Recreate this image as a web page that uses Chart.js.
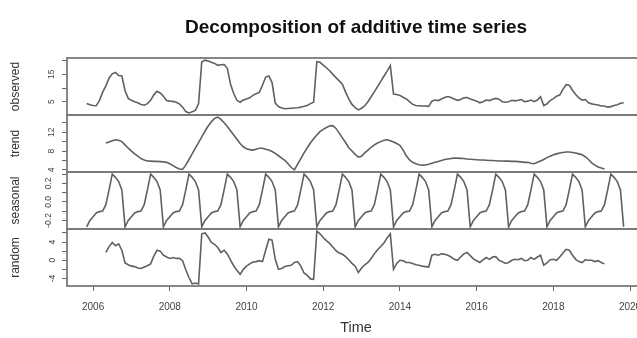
<!DOCTYPE html>
<html>
<head>
<meta charset="utf-8">
<script src="https://cdn.jsdelivr.net/npm/chart.js@4.4.1/dist/chart.umd.min.js"></script>
<style>
  html, body { margin: 0; padding: 0; overflow: hidden; background: #fff; }
  #wrap { width: 637px; height: 338px; overflow: hidden; }
</style>
</head>
<body>
<div id="wrap"><canvas id="chart" width="660" height="338"></canvas></div>
<script>
// Monthly series, first value = Nov 2005
const startYear = 2005 + 10 / 12;

const observed = [
  4.3, 3.9, 3.6, 3.5, 5.5, 8.5, 10.8, 13.6, 15.2, 15.7, 14.6, 14.4,
  9.0, 6.2, 5.5, 5.0, 4.6, 4.0, 3.7, 4.3, 5.5, 7.5, 8.8, 8.2,
  7.0, 5.4, 5.2, 5.1, 4.8, 4.2, 3.0, 1.4, 0.9, 1.3, 1.8, 4.2,
  19.5, 20.2, 19.9, 19.4, 19.0, 18.3, 18.5, 18.6, 17.2, 11.4, 8.0, 5.5,
  4.8, 5.6, 6.0, 6.4, 7.3, 7.9, 8.4, 11.0, 14.0, 14.4, 12.0, 4.5,
  3.2, 2.7, 2.4, 2.5, 2.6, 2.7, 2.8, 3.0, 3.3, 3.6, 4.3, 4.8,
  19.6, 19.4, 18.4, 17.4, 16.3, 15.0, 13.8, 12.6, 11.4, 8.5, 6.0, 4.0,
  2.8, 2.0, 2.6, 3.5, 5.0, 6.8, 8.6, 10.5, 12.4, 14.3, 16.2, 18.2,
  7.8, 7.6, 7.3, 6.6, 6.0, 5.0, 4.0, 3.6, 3.5, 3.4, 3.4, 3.3,
  5.2, 5.6, 5.4, 6.0, 6.5, 6.9, 6.5, 6.0, 5.5, 5.8, 6.4, 6.5,
  6.0, 5.6, 5.2, 4.6, 5.0, 5.6, 5.4, 5.9, 6.2, 5.9, 5.0, 4.8,
  5.0, 5.5, 5.3, 5.5, 5.8, 5.0, 5.2, 5.6, 5.0, 5.6, 6.8, 3.6,
  4.2, 5.4, 6.1, 7.0, 7.4, 9.5, 11.2, 11.0, 9.2, 7.6, 6.4, 5.6,
  5.8, 4.6, 4.2, 4.0, 3.8, 3.4, 3.4, 3.0, 3.2, 3.6, 3.9, 4.4,
  4.6
];

const trend = [
  null, null, null, null, null, null, 9.7, 9.9, 10.2, 10.4, 10.3, 10.0,
  9.3, 8.6, 8.0, 7.4, 6.9, 6.4, 6.1, 5.9, 5.85, 5.8, 5.8, 5.75,
  5.7, 5.6, 5.3, 4.9, 4.5, 4.2, 4.1, 5.0, 6.2, 7.4, 8.6, 9.8,
  11.0, 12.2, 13.3, 14.2, 14.9, 15.2, 14.7, 14.0, 13.2, 12.3, 11.4, 10.5,
  9.6, 8.9, 8.5, 8.3, 8.2, 8.4, 8.6, 8.6, 8.4, 8.2, 7.9, 7.5,
  7.0, 6.5, 6.0, 5.3, 4.5, 4.0, 5.2, 6.4, 7.6, 8.7, 9.7, 10.6,
  11.4, 12.1, 12.6, 13.0, 13.3, 13.4, 12.8, 11.8, 10.8, 9.8, 8.7, 8.0,
  7.3, 6.7, 6.9, 7.6, 8.2, 8.8, 9.3, 9.7, 10.0, 10.3, 10.4, 10.2,
  9.9, 9.6, 9.2, 8.2, 7.0, 6.1, 5.6, 5.3, 5.1, 5.0, 5.05, 5.2,
  5.4, 5.6, 5.8, 6.0, 6.2, 6.3, 6.4, 6.5, 6.5, 6.45, 6.4, 6.3,
  6.25, 6.2, 6.15, 6.1, 6.1, 6.05, 6.0, 6.0, 5.95, 5.9, 5.9, 5.85,
  5.85, 5.8, 5.8, 5.75, 5.7, 5.6, 5.6, 5.4, 5.3, 5.6, 5.9, 6.2,
  6.6, 6.9, 7.2, 7.4, 7.6, 7.7, 7.8, 7.8, 7.7, 7.6, 7.4, 7.2,
  6.8, 6.2, 5.5, 5.0, 4.6, 4.4, 4.2, null, null, null, null, null,
  null
];

const seasonal = [
  -0.27, -0.20, -0.16, -0.12, -0.105, -0.10, -0.03, 0.13, 0.30, 0.265, 0.22, 0.13,
  -0.27, -0.20, -0.16, -0.12, -0.105, -0.10, -0.03, 0.13, 0.30, 0.265, 0.22, 0.13,
  -0.27, -0.20, -0.16, -0.12, -0.105, -0.10, -0.03, 0.13, 0.30, 0.265, 0.22, 0.13,
  -0.27, -0.20, -0.16, -0.12, -0.105, -0.10, -0.03, 0.13, 0.30, 0.265, 0.22, 0.13,
  -0.27, -0.20, -0.16, -0.12, -0.105, -0.10, -0.03, 0.13, 0.30, 0.265, 0.22, 0.13,
  -0.27, -0.20, -0.16, -0.12, -0.105, -0.10, -0.03, 0.13, 0.30, 0.265, 0.22, 0.13,
  -0.27, -0.20, -0.16, -0.12, -0.105, -0.10, -0.03, 0.13, 0.30, 0.265, 0.22, 0.13,
  -0.27, -0.20, -0.16, -0.12, -0.105, -0.10, -0.03, 0.13, 0.30, 0.265, 0.22, 0.13,
  -0.27, -0.20, -0.16, -0.12, -0.105, -0.10, -0.03, 0.13, 0.30, 0.265, 0.22, 0.13,
  -0.27, -0.20, -0.16, -0.12, -0.105, -0.10, -0.03, 0.13, 0.30, 0.265, 0.22, 0.13,
  -0.27, -0.20, -0.16, -0.12, -0.105, -0.10, -0.03, 0.13, 0.30, 0.265, 0.22, 0.13,
  -0.27, -0.20, -0.16, -0.12, -0.105, -0.10, -0.03, 0.13, 0.30, 0.265, 0.22, 0.13,
  -0.27, -0.20, -0.16, -0.12, -0.105, -0.10, -0.03, 0.13, 0.30, 0.265, 0.22, 0.13,
  -0.27, -0.20, -0.16, -0.12, -0.105, -0.10, -0.03, 0.13, 0.30, 0.265, 0.22, 0.13,
  -0.27
];

const random = [
  null, null, null, null, null, null, 1.7, 3.0, 3.9, 3.2, 3.6, 2.2,
  -0.6, -1.0, -1.3, -1.4, -1.7, -1.8, -1.5, -1.2, -0.8, 0.9, 2.2, 2.0,
  1.1, 0.7, 0.4, 0.6, 0.4, 0.4, -0.1, -2.1, -3.8, -5.2, -5.0, -5.2,
  5.8, 6.0, 5.1, 3.9, 3.5, 2.8, 1.7, 2.2, 1.4, 0.0, -1.2, -2.2,
  -3.1, -2.0, -1.3, -0.8, -0.4, -0.3, -0.1, -0.3, 2.2, 4.6, 4.4, 0.2,
  -2.0, -1.8, -1.4, -1.2, -1.1, -0.5, -0.3, -1.3, -2.8, -3.3, -4.1, -4.2,
  6.4, 5.8, 5.0, 4.3, 3.7, 2.9, 2.1, 1.6, 1.3, 0.8, 0.1, -0.7,
  -1.3, -2.7, -1.7, -1.0, -0.5, 0.4, 1.4, 2.3, 3.0, 3.8, 4.9, 5.8,
  -2.0, -0.7, 0.0, -0.1, -0.5, -0.5, -0.7, -1.0, -1.1, -1.3, -1.4, -1.5,
  1.1, 1.3, 1.1, 1.4, 1.3, 1.1, 0.7, 0.2, 0.0, 0.7, 1.4, 1.7,
  1.0, 0.3, -0.1, -0.5, 0.1, 0.6, 0.2, 0.7, 0.8, 0.0, -0.3, -0.7,
  -0.5, 0.0, 0.2, 0.1, 0.4, -0.1, 0.0, 0.6, 0.2, 0.7, 1.1, -1.1,
  -0.6, 0.1, 0.2, 0.0, 0.7, 1.6, 2.4, 2.2, 1.1, 0.2, -0.3, -0.5,
  0.1, 0.0, 0.0, -0.3, -0.1, -0.5, -0.8, null, null, null, null, null,
  null
];

// axis ticks and labels (R skips every other label)
const xTicks = [2006, 2008, 2010, 2012, 2014, 2016, 2018, 2020];
const obsTicks = [5, 10, 15, 20];
const obsLabels = ['5', '', '15', ''];
const trendTicks = [4, 6, 8, 10, 12, 14];
const trendLabels = ['4', '', '8', '', '12', ''];
const seasTicks = [-0.2, -0.1, 0, 0.1, 0.2, 0.3];
const seasLabels = ['-0.2', '', '0.0', '', '0.2', ''];
const randTicks = [-4, -2, 0, 2, 4, 6];
const randLabels = ['-4', '', '0', '', '4', ''];

Chart.defaults.font.family = '"Liberation Sans", Arial, sans-serif';
Chart.defaults.color = '#444';

function series(values, axis) {
  return {
    data: values.map((v, i) => ({ x: startYear + i / 12, y: v })),
    yAxisID: axis,
    borderColor: '#606060',
    borderWidth: 1.6,
    pointRadius: 0,
    tension: 0,
    fill: false,
    spanGaps: false
  };
}

function panelAxis(title, min, max, tickValues, tickLabels, weight) {
  return {
    type: 'linear',
    position: 'left',
    stack: 'panels',
    stackWeight: 1,
    weight: weight,
    min: min,
    max: max,
    afterBuildTicks: s => { s.ticks = tickValues.map(v => ({ value: v })); },
    afterFit: s => { s.width = 67; s.paddingTop = 0; s.paddingBottom = 0; },
    grid: { drawOnChartArea: false, tickLength: 5, color: '#666' },
    border: { display: false },
    ticks: {
      autoSkip: false,
      minRotation: 90,
      maxRotation: 90,
      crossAlign: 'center',
      padding: 6,
      color: '#444',
      font: { size: 8.5 },
      callback: (v, i) => tickLabels[i]
    },
    title: {
      display: true,
      text: title,
      color: '#333',
      font: { size: 12 },
      padding: { top: 8, bottom: 0 }
    }
  };
}

// box around each panel, like R's plot frame
const panelBoxes = {
  id: 'panelBoxes',
  afterDatasetsDraw(chart) {
    const { ctx, chartArea } = chart;
    ctx.save();
    ctx.strokeStyle = '#7a7a7a';
    ctx.lineWidth = 1.8;
    ['yObs', 'yTrend', 'ySeas', 'yRand'].forEach(id => {
      const s = chart.scales[id];
      ctx.strokeRect(chartArea.left, s.top, chartArea.right - chartArea.left, s.bottom - s.top);
    });
    ctx.restore();
  }
};

new Chart(document.getElementById('chart'), {
  type: 'line',
  data: {
    datasets: [
      series(observed, 'yObs'),
      series(trend, 'yTrend'),
      series(seasonal, 'ySeas'),
      series(random, 'yRand')
    ]
  },
  options: {
    responsive: false,
    animation: false,
    devicePixelRatio: 1,
    layout: { padding: { left: 0, right: 15, top: 0, bottom: 0 } },
    plugins: {
      legend: { display: false },
      tooltip: { enabled: false },
      title: {
        display: true,
        fullSize: false,
        text: 'Decomposition of additive time series',
        color: '#111',
        font: { size: 19, weight: 'bold' },
        padding: { top: 16, bottom: 19.2 }
      }
    },
    scales: {
      x: {
        type: 'linear',
        min: 2005.32,
        max: 2020.39,
        afterBuildTicks: s => { s.ticks = xTicks.map(v => ({ value: v })); },
        afterFit: s => { s.height = 52; s.paddingLeft = 0; s.paddingRight = 0; },
        grid: { drawOnChartArea: false, tickLength: 5, color: '#666' },
        border: { display: false },
        ticks: {
          autoSkip: false,
          maxRotation: 0,
          padding: 10,
          color: '#444',
          font: { size: 10 },
          callback: v => String(v)
        },
        title: {
          display: true,
          text: 'Time',
          color: '#333',
          font: { size: 14.5 },
          padding: { top: 0, bottom: 1 }
        }
      },
      yObs: panelAxis('observed', 0.13, 20.97, obsTicks, obsLabels, 4),
      yTrend: panelAxis('trend', 3.55, 15.65, trendTicks, trendLabels, 3),
      ySeas: panelAxis('seasonal', -0.293, 0.323, seasTicks, seasLabels, 2),
      yRand: panelAxis('random', -5.66, 6.86, randTicks, randLabels, 1)
    }
  },
  plugins: [panelBoxes]
});
</script>
</body>
</html>
